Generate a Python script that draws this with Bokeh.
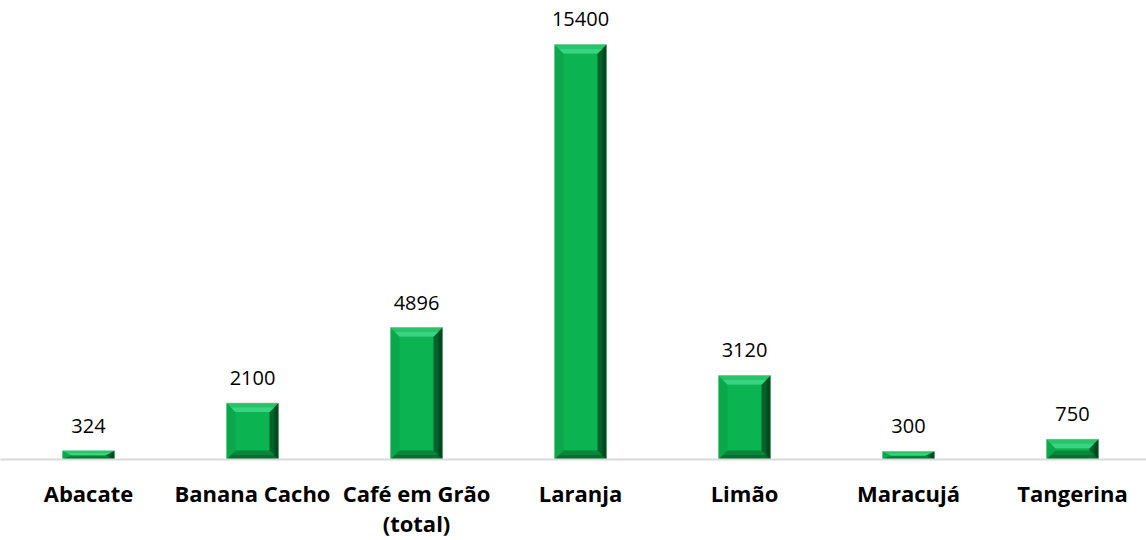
import numpy as np
from bokeh.plotting import figure
from bokeh.models import Range1d, FixedTicker, ColumnDataSource
from bokeh.embed import file_html
from bokeh.resources import INLINE
from bokeh.core.properties import value

categories = ["Abacate", "Banana Cacho", "Café em Grão\n(total)", "Laranja", "Limão", "Maracujá", "Tangerina"]
values = [324, 2100, 4896, 15400, 3120, 300, 750]

W, H = 1146, 540
px_per_cat = 164.0
x_start = -88.0 / px_per_cat
x_end = x_start + W / px_per_cat
frame_h = 459
y_end = 17032

p = figure(width=W, height=H, output_backend="svg", toolbar_location=None,
           x_range=Range1d(x_start, x_end), y_range=Range1d(0, y_end),
           min_border_left=0, min_border_right=0, min_border_top=0,
           min_border_bottom=H - frame_h)
p.outline_line_color = None
p.grid.visible = False
p.yaxis.visible = False
p.background_fill_color = "white"
p.border_fill_color = "white"

xs = np.arange(len(categories))
vals = np.array(values, dtype=float)
zeros = np.zeros_like(vals)

bw = 52.0 / px_per_cat
bx = 9.0 / px_per_cat
upx = y_end / frame_h
by = np.minimum(9.0 * upx, vals / 2.0)

x0 = xs - bw / 2
x1 = xs + bw / 2

# main body
p.quad(left=x0, right=x1, bottom=0, top=vals, fill_color="#0bb351", line_color=None)

def patch(xl, yl, color):
    p.patches(xs=[list(a) for a in xl], ys=[list(b) for b in yl], fill_color=color, line_color=None)

# left bevel
patch(zip(x0, x0 + bx, x0 + bx, x0), zip(vals, vals - by, by, zeros), "#0aa84b")
# bottom bevel
patch(zip(x0, x1, x1 - bx, x0 + bx), zip(zeros, zeros, by, by), "#08863c")
patch(zip(x0, x1, x1 - bx * 0.5, x0 + bx * 0.5), zip(zeros, zeros, by * 0.5, by * 0.5), "#06702f")
# right bevel (outer dark, inner mid)
patch(zip(x1, x1, x1 - bx, x1 - bx), zip(vals, zeros, by, vals - by), "#03622b")
patch(zip(x1, x1, x1 - bx * 0.45, x1 - bx * 0.45),
      zip(vals, zeros, by * 0.45, vals - by * 0.45), "#014a1f")
# top bevel (light)
patch(zip(x0, x1, x1 - bx, x0 + bx), zip(vals, vals, vals - by, vals - by), "#26c46b")
patch(zip(x0 + bx * 0.5, x1 - bx * 0.5, x1 - bx, x0 + bx),
      zip(vals - by * 0.5, vals - by * 0.5, vals - by, vals - by), "#3ad481")
# thin outline
p.quad(left=x0, right=x1, bottom=0, top=vals, fill_color=None, line_color="#8fcfa5",
       line_width=0.8, line_alpha=0.6)

src = ColumnDataSource(dict(x=xs, y=vals, t=[str(v) for v in values]))
p.text(x="x", y="y", text="t", source=src, text_align="center", text_baseline="alphabetic",
       y_offset=-25, text_font=value("Open Sans"), text_font_size="20px", text_color="#000000")

ax = p.xaxis[0]
ax.ticker = FixedTicker(ticks=list(xs))
ax.major_label_overrides = {int(i): c for i, c in zip(xs, categories)}
ax.axis_line_color = "#d9d9d9"
ax.axis_line_width = 2
ax.major_tick_line_color = None
ax.minor_tick_line_color = None
ax.major_label_standoff = 12
ax.major_label_text_font = "Open Sans"
ax.major_label_text_font_style = "bold"
ax.major_label_text_font_size = "22px"
ax.major_label_text_color = "#000000"
ax.major_label_text_line_height = 1.0

open("out.html", "w").write(file_html(p, INLINE))
